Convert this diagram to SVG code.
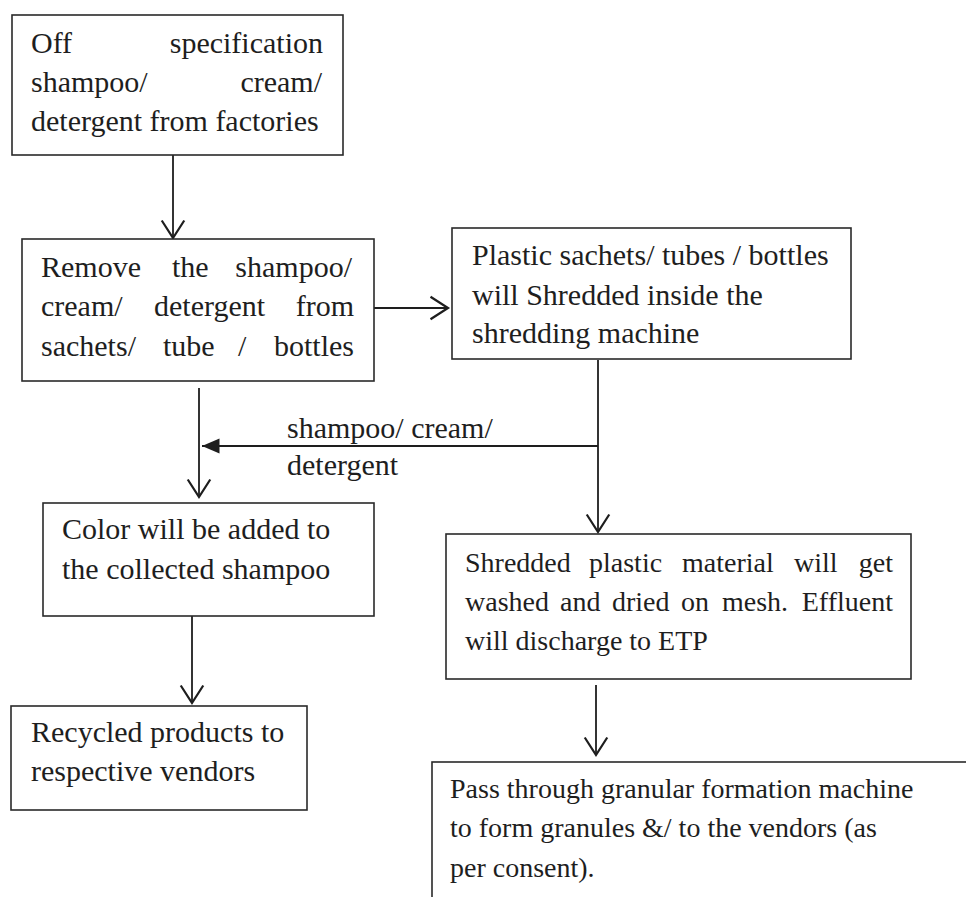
<svg xmlns="http://www.w3.org/2000/svg" width="966" height="897" viewBox="0 0 966 897">
<style>
.box{fill:#fff;stroke:#2a2a2a;stroke-width:1.6}
.t{font-family:"Liberation Serif","Times New Roman",serif;font-size:30px;fill:#1e1e1e}
.s{font-size:28px}
.e{text-anchor:end}
.c{fill:none;stroke:#1e1e1e;stroke-width:1.8}
</style>
<defs>
<marker id="open" markerUnits="userSpaceOnUse" markerWidth="30" markerHeight="30" viewBox="-16 -12 20 24" refX="0" refY="0" orient="auto">
<path d="M-14,-9 L0,0 L-14,9" fill="none" stroke="#1e1e1e" stroke-width="1.8"/>
</marker>
<marker id="fill" markerUnits="userSpaceOnUse" markerWidth="30" markerHeight="30" viewBox="-16 -12 20 24" refX="0" refY="0" orient="auto">
<path d="M-14,-6 L0,0 L-14,6 Z" fill="#1e1e1e"/>
</marker>
</defs>
<rect width="966" height="897" fill="#fff"/>
<g id="connectors">
<line class="c" x1="173" y1="155" x2="173" y2="238" marker-end="url(#open)"/>
<line class="c" x1="374" y1="308" x2="448" y2="308" marker-end="url(#open)"/>
<line class="c" x1="199" y1="388" x2="199" y2="497" marker-end="url(#open)"/>
<line class="c" x1="598" y1="360" x2="598" y2="532" marker-end="url(#open)"/>
<line class="c" x1="598" y1="446" x2="202" y2="446" marker-end="url(#fill)"/>
<line class="c" x1="192" y1="616" x2="192" y2="703" marker-end="url(#open)"/>
<line class="c" x1="596" y1="685" x2="596" y2="755" marker-end="url(#open)"/>
<text class="t" x="287" y="438">shampoo/ cream/</text>
<text class="t" x="287" y="475">detergent</text>
</g>
<g id="n1">
<rect class="box" x="12" y="15" width="331" height="140"/>
<text class="t" x="31" y="53">Off</text><text class="t e" x="323" y="53">specification</text>
<text class="t" x="31" y="92">shampoo/</text><text class="t e" x="322" y="92">cream/</text>
<text class="t" x="31" y="131">detergent from factories</text>
</g>
<g id="n2">
<rect class="box" x="22" y="239" width="352" height="142"/>
<text class="t" x="41" y="277">Remove</text><text class="t" x="172" y="277">the</text><text class="t e" x="352" y="277">shampoo/</text>
<text class="t" x="41" y="316">cream/</text><text class="t" x="154" y="316">detergent</text><text class="t e" x="354" y="316">from</text>
<text class="t" x="41" y="356">sachets/</text><text class="t" x="163" y="356">tube</text><text class="t" x="238" y="356">/</text><text class="t e" x="354" y="356">bottles</text>
</g>
<g id="n3">
<rect class="box" x="452" y="228" width="399" height="131"/>
<text class="t" x="472" y="265">Plastic sachets/ tubes / bottles</text>
<text class="t" x="472" y="305">will Shredded inside the</text>
<text class="t" x="472" y="343">shredding machine</text>
</g>
<g id="n4">
<rect class="box" x="43" y="503" width="331" height="113"/>
<text class="t" x="62" y="539">Color will be added to</text>
<text class="t" x="62" y="579">the collected shampoo</text>
</g>
<g id="n5">
<rect class="box" x="446" y="534" width="465" height="145"/>
<text class="t s" x="465" y="572">Shredded</text><text class="t s" x="589" y="572">plastic</text><text class="t s" x="682" y="572">material</text><text class="t s" x="794" y="572">will</text><text class="t s e" x="893" y="572">get</text>
<text class="t s" x="465" y="611">washed</text><text class="t s" x="560" y="611">and</text><text class="t s" x="612" y="611">dried</text><text class="t s" x="681" y="611">on</text><text class="t s" x="722" y="611">mesh.</text><text class="t s e" x="893" y="611">Effluent</text>
<text class="t s" x="465" y="650">will discharge to ETP</text>
</g>
<g id="n6">
<rect class="box" x="11" y="706" width="296" height="104"/>
<text class="t" x="31" y="742">Recycled products to</text>
<text class="t" x="31" y="781">respective vendors</text>
</g>
<g id="n7">
<rect class="box" x="432" y="762" width="600" height="200"/>
<text class="t s" x="450" y="798">Pass through granular formation machine</text>
<text class="t s" x="450" y="837">to form granules &amp;/ to the vendors (as</text>
<text class="t s" x="450" y="877">per consent).</text>
</g>
</svg>
